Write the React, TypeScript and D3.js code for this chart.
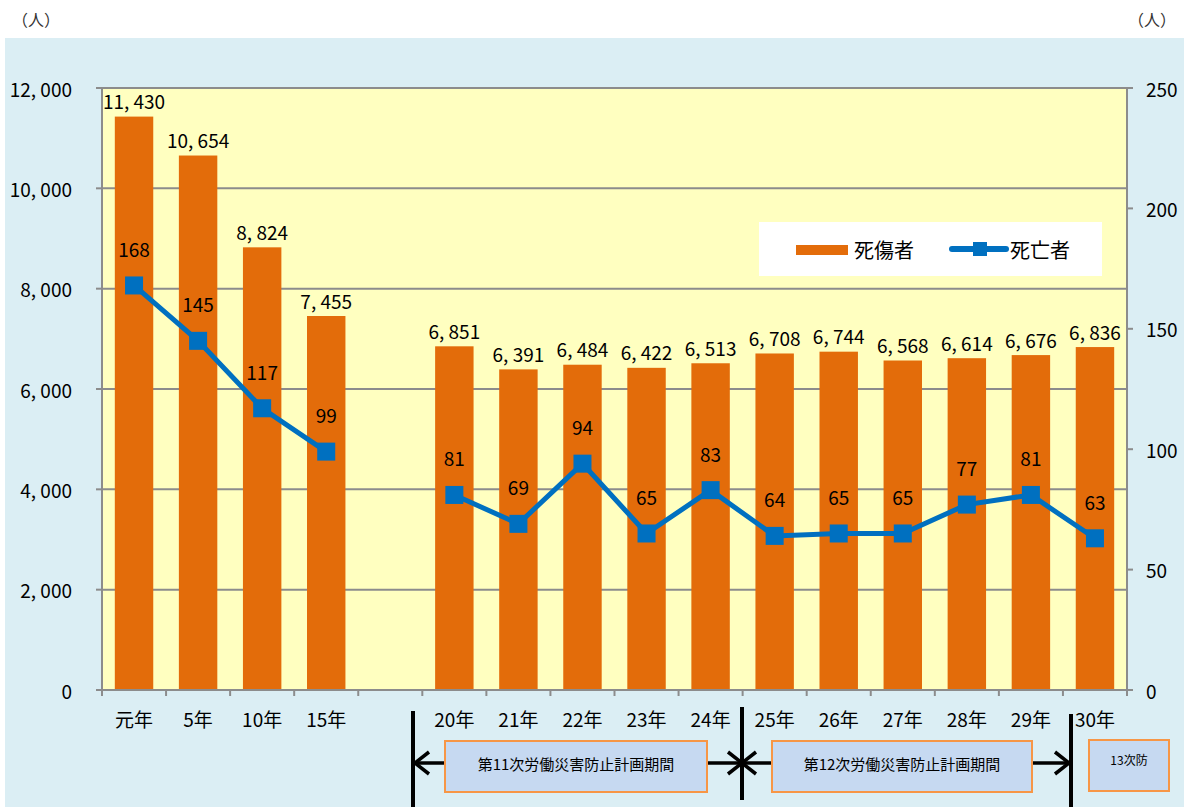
import * as d3 from "d3";

// categories (blank slot between 15年 and 20年)
const CATEGORIES = ["元年", "5年", "10年", "15年", "", "20年", "21年", "22年", "23年", "24年", "25年", "26年", "27年", "28年", "29年", "30年"];
const INJURED: (number | null)[] = [11430, 10654, 8824, 7455, null, 6851, 6391, 6484, 6422, 6513, 6708, 6744, 6568, 6614, 6676, 6836];
const DEATHS: (number | null)[] = [168, 145, 117, 99, null, 81, 69, 94, 65, 83, 64, 65, 65, 77, 81, 63];
const LEFT_TICKS = [0, 2000, 4000, 6000, 8000, 10000, 12000];
const RIGHT_TICKS = [0, 50, 100, 150, 200, 250];
const SERIES_NAMES = ["死傷者", "死亡者"];
const PERIODS = ["第11次労働災害防止計画期間", "第12次労働災害防止計画期間", "13次防"];

const W = 1184;
const H = 807;
const PLOT = { left: 102, right: 1127, top: 88, bottom: 690 };
const FONT = "'Noto Sans CJK JP', 'Noto Sans', sans-serif";
const BAR = "#E36C0A";
const LINE = "#0070C0";
const AXIS = "#8c8c8c";

const fmt = (v: number) => d3.format(",")(v).replace(",", ", ");

export default function App() {
  const x = d3.scaleBand<string>()
    .domain(CATEGORIES.map((c, i) => c + "#" + i))
    .range([PLOT.left, PLOT.right])
    .paddingInner(0.4)
    .paddingOuter(0.2);
  const slot = d3.scaleBand<number>()
    .domain(d3.range(CATEGORIES.length))
    .range([PLOT.left, PLOT.right]);
  const keyOf = (i: number) => CATEGORIES[i] + "#" + i;
  const cx = (i: number) => (slot(i) as number) + slot.bandwidth() / 2;

  const yL = d3.scaleLinear().domain([0, 12000]).range([PLOT.bottom, PLOT.top]);
  const yR = d3.scaleLinear().domain([0, 250]).range([PLOT.bottom, PLOT.top]);

  const line = d3.line<number | null>()
    .defined((d) => d !== null)
    .x((_, i) => cx(i))
    .y((d) => yR(d as number));

  const bw = slot.bandwidth() * 0.6;

  // period separators & arrows
  const sep1 = 413, sep2 = 742, sep3 = 1071;
  const arrowY = 763;
  const boxes = [
    { x0: 445, x1: 707, y0: 741, y1: 792, fs: 15 },
    { x0: 772, x1: 1032, y0: 741, y1: 792, fs: 15 },
    { x0: 1089, x1: 1169, y0: 740, y1: 791, fs: 12 },
  ];
  const head = (tipX: number, dir: 1 | -1) => {
    const len = 14;
    return `M${tipX - dir * len},${arrowY - 11}L${tipX},${arrowY}L${tipX - dir * len},${arrowY + 11}`;
  };

  return (
    <svg width={W} height={H} style={{ position: "absolute", left: 0, top: 0 }} fontFamily={FONT}>
      <rect x={0} y={0} width={W} height={H} fill="#ffffff" />
      <rect x={5} y={38} width={W - 5} height={H - 38} fill="#DBEEF4" />
      <text x={12} y={26} fontSize={16} fill="#333">（人）</text>
      <text x={1128} y={26} fontSize={16} fill="#333">（人）</text>

      <rect x={PLOT.left} y={PLOT.top} width={PLOT.right - PLOT.left} height={PLOT.bottom - PLOT.top} fill="#FFFFC0" />

      {/* gridlines */}
      {LEFT_TICKS.slice(1).map((t) => (
        <line key={t} x1={PLOT.left} x2={PLOT.right} y1={yL(t)} y2={yL(t)} stroke={AXIS} strokeWidth={2} />
      ))}

      {/* bars */}
      {INJURED.map((v, i) =>
        v === null ? null : (
          <g key={i}>
            <rect x={cx(i) - bw / 2} y={yL(v)} width={bw} height={PLOT.bottom - yL(v)} fill={BAR} />
            <text x={cx(i)} y={yL(v) - 16} textAnchor="middle" dominantBaseline="central" fontSize={19} fill="#000">
              {fmt(v)}
            </text>
          </g>
        )
      )}

      {/* line */}
      <path d={line(DEATHS) || ""} fill="none" stroke={LINE} strokeWidth={5} />
      {DEATHS.map((v, i) =>
        v === null ? null : (
          <g key={i}>
            <rect x={cx(i) - 9} y={yR(v) - 9} width={18} height={18} fill={LINE} />
            <text x={cx(i)} y={yR(v) - 37} textAnchor="middle" dominantBaseline="central" fontSize={19} fill="#000">
              {v}
            </text>
          </g>
        )
      )}

      {/* axes */}
      <line x1={PLOT.left} x2={PLOT.left} y1={PLOT.top} y2={PLOT.bottom} stroke={AXIS} strokeWidth={2} />
      <line x1={PLOT.right} x2={PLOT.right} y1={PLOT.top} y2={PLOT.bottom} stroke={AXIS} strokeWidth={2} />
      <line x1={PLOT.left - 6} x2={PLOT.right + 6} y1={PLOT.bottom} y2={PLOT.bottom} stroke={AXIS} strokeWidth={2} />
      {LEFT_TICKS.map((t) => (
        <g key={t}>
          <line x1={PLOT.left - 6} x2={PLOT.left} y1={yL(t)} y2={yL(t)} stroke={AXIS} strokeWidth={2} />
          <text x={72} y={yL(t)} textAnchor="end" dominantBaseline="central" fontSize={19} fill="#000">
            {fmt(t)}
          </text>
        </g>
      ))}
      {RIGHT_TICKS.map((t) => (
        <g key={t}>
          <line x1={PLOT.right} x2={PLOT.right + 6} y1={yR(t)} y2={yR(t)} stroke={AXIS} strokeWidth={2} />
          <text x={1146} y={yR(t)} dominantBaseline="central" fontSize={19} fill="#000">
            {t}
          </text>
        </g>
      ))}
      {d3.range(CATEGORIES.length + 1).map((i) => {
        const tx = i < CATEGORIES.length ? (slot(i) as number) : PLOT.right;
        return <line key={i} x1={tx} x2={tx} y1={PLOT.bottom} y2={PLOT.bottom + 6} stroke={AXIS} strokeWidth={2} />;
      })}
      {CATEGORIES.map((c, i) => (
        <text key={i} x={cx(i)} y={718} textAnchor="middle" dominantBaseline="central" fontSize={19} fill="#000">
          {c}
        </text>
      ))}

      {/* legend */}
      <rect x={759} y={222} width={343} height={54} fill="#ffffff" />
      <rect x={796} y={245} width={52} height={10} fill={BAR} />
      <text x={854} y={249} dominantBaseline="central" fontSize={20} fill="#000">{SERIES_NAMES[0]}</text>
      <line x1={952} x2={1006} y1={249} y2={249} stroke={LINE} strokeWidth={6} strokeLinecap="round" />
      <rect x={973} y={242} width={14} height={14} fill={LINE} />
      <text x={1010} y={249} dominantBaseline="central" fontSize={20} fill="#000">{SERIES_NAMES[1]}</text>

      {/* plan periods */}
      <line x1={sep1} x2={sep1} y1={711} y2={H} stroke="#000" strokeWidth={4} />
      <line x1={sep2} x2={sep2} y1={707} y2={800} stroke="#000" strokeWidth={4} />
      <line x1={sep3} x2={sep3} y1={714} y2={H} stroke="#000" strokeWidth={4} />
      <g stroke="#000" strokeWidth={3.5} fill="none">
        <line x1={sep1} x2={boxes[0].x0} y1={arrowY} y2={arrowY} />
        <path d={head(sep1 + 2, -1)} />
        <line x1={boxes[0].x1} x2={boxes[1].x0} y1={arrowY} y2={arrowY} />
        <path d={head(sep2, 1)} />
        <path d={head(sep2, -1)} />
        <line x1={boxes[1].x1} x2={sep3} y1={arrowY} y2={arrowY} />
        <path d={head(sep3 - 2, 1)} />
      </g>
      {boxes.map((b, i) => (
        <g key={i}>
          <rect x={b.x0} y={b.y0} width={b.x1 - b.x0} height={b.y1 - b.y0} fill="#C6D9F1" stroke="#F79646" strokeWidth={2} />
          <text x={(b.x0 + b.x1) / 2} y={i === 2 ? 759 : 763} textAnchor="middle" dominantBaseline="central" fontSize={b.fs} fill="#000">
            {PERIODS[i]}
          </text>
        </g>
      ))}
    </svg>
  );
}
